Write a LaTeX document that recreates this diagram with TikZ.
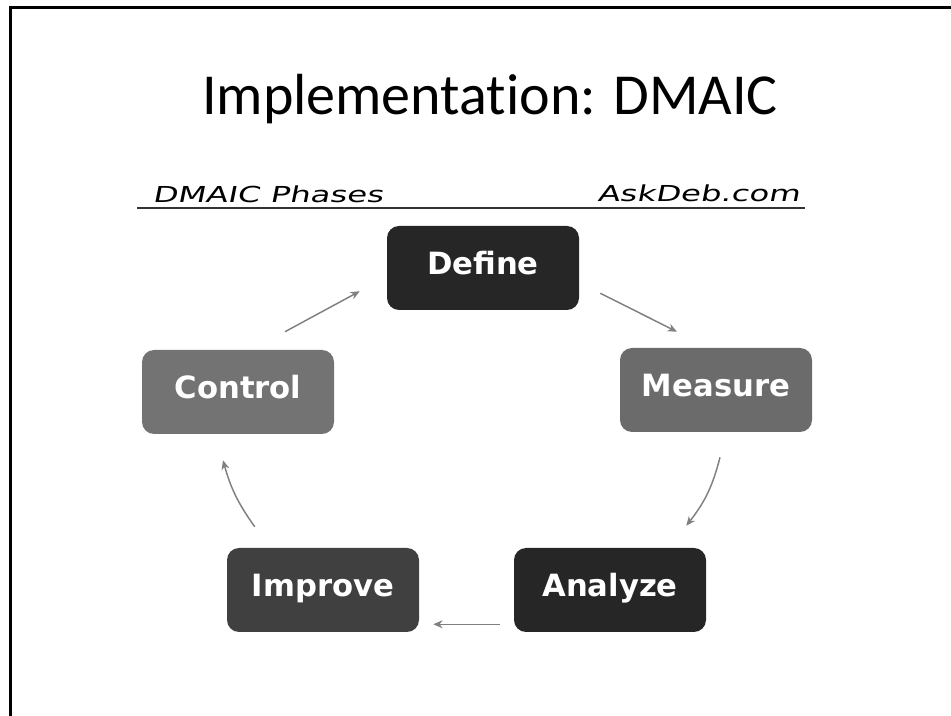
\documentclass[tikz,border=0pt]{standalone}
\usepackage{fontspec}
\newfontfamily\titlefont[Ligatures=NoCommon]{Carlito}
\newfontfamily\boxfont{DejaVu Sans}
\newfontfamily\handfont[FakeStretch=1.47,FakeSlant=0.2]{DejaVu Sans}
\usetikzlibrary{calc}
\usetikzlibrary{arrows.meta}

\begin{document}
\begin{tikzpicture}[x=0.75pt,y=-0.75pt,
  phase/.style={rectangle,rounded corners=9pt,minimum width=144pt,minimum height=63pt,inner sep=0pt,text height=16pt,text depth=5.5pt,text=white,font=\boxfont\bfseries\fontsize{23}{27}\selectfont},
  flowarrow/.style={draw=black!50,line width=1.1pt,-{Stealth[length=7pt,width=6pt]}}]
\useasboundingbox (0,0) rectangle (951,716);
\draw[line width=2.25pt] (10,716) -- (10,8) -- (951,8);

\node[font=\titlefont\fontsize{43.5}{50}\selectfont,anchor=base] (title) at (490,115) {Implementation: DMAIC};
\node[font=\handfont\fontsize{16.5}{20}\selectfont,anchor=base west,inner sep=0pt] (phases) at (152,203) {DMAIC Phases};
\node[font=\handfont\fontsize{16.5}{20}\selectfont,anchor=base east,inner sep=0pt] (site) at (800,202) {AskDeb.com};
\draw[black!80,line width=1pt] (137,208) -- (805,208);

\node[phase,fill=black!85] (define) at (483,268) {Define};
\node[phase,fill=black!58] (measure) at (716,390) {Measure};
\node[phase,fill=black!85] (analyze) at (610,590) {Analyze};
\node[phase,fill=black!75] (improve) at (323,590) {Improve};
\node[phase,fill=black!55] (control) at (238,392) {Control};

\draw[flowarrow] ($(control.north)+(47,-18)$) -- ($(define.south west)+(-27,-19)$);
\draw[flowarrow] ($(define.south east)+(21,-17)$) -- ($(measure.north)+(-39,-16)$);
\draw[flowarrow] ($(measure.south)+(4,25)$) to[bend left=12] ($(analyze.north east)+(-20,-22)$);
\draw[flowarrow] ($(analyze.south west)+(-14,-8)$) -- ($(improve.south east)+(14,-8)$);
\draw[flowarrow] ($(improve.north west)+(28,-21)$) to[bend left=10] ($(control.south)+(-15,26)$);

\end{tikzpicture}
\end{document}
